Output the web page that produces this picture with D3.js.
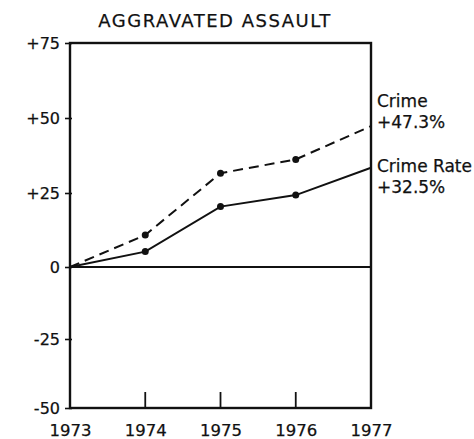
<!DOCTYPE html>
<html>
<head>
<meta charset="utf-8">
<script src="https://cdn.jsdelivr.net/npm/d3@7"></script>
<style>
  body { margin: 0; background: #fff; }
  text { font-family: "DejaVu Sans", sans-serif; fill: #111; stroke: #111; stroke-width: 0.25px; }
</style>
</head>
<body>
<svg width="474" height="439"></svg>
<script>
// percent change since 1973
const years = [1973, 1974, 1975, 1976, 1977];
const crime = [0, 10.8, 31.6, 36.2, 47.3];
const crimeRate = [0, 5.2, 20.4, 24.3, 33.4];
const yTicks = [75, 50, 25, 0, -25, -50];

const svg = d3.select("svg");

const x = d3.scaleLinear().domain([1973, 1977]).range([70, 371]);
// scanned original is slightly uneven, so the scale follows each gridline
const y = d3.scaleLinear().domain([-50, -25, 0, 25, 50, 75]).range([408, 339, 267, 193, 118, 43]);

// title
svg.append("text")
  .attr("x", 215).attr("y", 27)
  .attr("text-anchor", "middle")
  .attr("font-size", 18)
  .attr("letter-spacing", 1.5)
  .text("AGGRAVATED ASSAULT");

// frame
svg.append("rect")
  .attr("x", x(1973)).attr("y", y(75))
  .attr("width", x(1977) - x(1973)).attr("height", y(-50) - y(75))
  .attr("fill", "none").attr("stroke", "#111").attr("stroke-width", 2.4);

// zero line
svg.append("line")
  .attr("x1", x(1973)).attr("x2", x(1977))
  .attr("y1", y(0)).attr("y2", y(0))
  .attr("stroke", "#111").attr("stroke-width", 1.8);

// y axis ticks + labels (ticks cross the axis)
const yAxis = d3.axisLeft(y).tickValues(yTicks).tickSize(7)
  .tickFormat(d => d > 0 ? "+" + d : d < 0 ? "-" + Math.abs(d) : "0");
svg.append("g").attr("transform", `translate(${x(1973) + 2},0)`).call(yAxis)
  .call(g => g.select(".domain").remove())
  .call(g => g.selectAll("line").attr("stroke", "#111").attr("stroke-width", 1.6))
  .call(g => g.selectAll("text").attr("font-size", 16).attr("font-family", "DejaVu Sans").attr("fill", "#111").attr("x", -12));

// x axis labels
const xAxis = d3.axisBottom(x).tickValues(years).tickSize(0).tickFormat(d3.format("d"));
svg.append("g").attr("transform", `translate(0,${y(-50)})`).call(xAxis)
  .call(g => g.select(".domain").remove())
  .call(g => g.selectAll("text").attr("font-size", 16.5).attr("font-family", "DejaVu Sans").attr("fill", "#111").attr("y", 28).attr("dy", 0));

// inner ticks up from the bottom edge
svg.selectAll(".xt").data(years.slice(1, 4)).enter().append("line")
  .attr("x1", d => x(d)).attr("x2", d => x(d))
  .attr("y1", y(-50)).attr("y2", y(-50) - 16)
  .attr("stroke", "#111").attr("stroke-width", 1.8);

const line = d3.line().x((d, i) => x(years[i])).y(d => y(d));

svg.append("path").datum(crime)
  .attr("d", line).attr("fill", "none")
  .attr("stroke", "#111").attr("stroke-width", 2)
  .attr("stroke-dasharray", "10,6");

svg.append("path").datum(crimeRate)
  .attr("d", line).attr("fill", "none")
  .attr("stroke", "#111").attr("stroke-width", 2);

[crime, crimeRate].forEach(s => {
  svg.selectAll(null).data(s.slice(1, 4)).enter().append("circle")
    .attr("cx", (d, i) => x(years[i + 1])).attr("cy", d => y(d))
    .attr("r", 3.5).attr("fill", "#111");
});

// series labels
const labels = [
  { t: "Crime", yy: 107 },
  { t: "+47.3%", yy: 128 },
  { t: "Crime Rate", yy: 172 },
  { t: "+32.5%", yy: 193 }
];
svg.selectAll(".lab").data(labels).enter().append("text")
  .attr("x", 377).attr("y", d => d.yy)
  .attr("font-size", 17)
  .text(d => d.t);
</script>
</body>
</html>
